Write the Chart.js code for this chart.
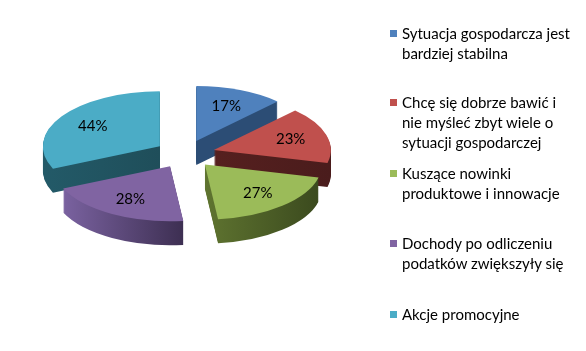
<!DOCTYPE html>
<html>
<head>
<meta charset="utf-8">
<script src="https://cdn.jsdelivr.net/npm/chart.js@4.4.1/dist/chart.umd.min.js"></script>
<style>
body{margin:0;background:#fff;}
#wrap{position:relative;width:586px;height:351px;}
#legend{position:absolute;left:0;top:0;font-family:Lato,"Open Sans",sans-serif;font-size:15px;color:#000;}
.item{position:absolute;left:402px;line-height:20px;white-space:nowrap;}
.box{position:absolute;left:-12px;top:7px;width:7px;height:7px;}
</style>
</head>
<body>
<div id="wrap">
<canvas id="c" width="586" height="351"></canvas>
<div id="legend"></div>
</div>
<script>
// data
const categories = [
  ["Sytuacja gospodarcza jest", "bardziej stabilna"],
  ["Chcę się dobrze bawić i", "nie myśleć zbyt wiele o", "sytuacji gospodarczej"],
  ["Kuszące nowinki", "produktowe i innowacje"],
  ["Dochody po odliczeniu", "podatków zwiększyły się"],
  ["Akcje promocyjne"]
]
const values = [17, 23, 27, 28, 44]
const colors = ["#4F81BD", "#C0504D", "#9BBB59", "#8064A2", "#4BACC6"]
// side (depth) colours, left -> right
const sideColors = [
  ["#2C4D75", "#2C4D75"],
  ["#56201f", "#4a1c1c"],
  ["#5f7430", "#3b4a1e"],
  ["#7a62a0", "#3d2f52"],
  ["#235a68", "#1f4e5a"]
]

// 3d look
const DEPTH = 24, K = 0.47, EXPLODE = 30, LABEL_R = 80

// legend
const legendTops = [23, 92, 163, 233, 304]
const legend = document.getElementById("legend")
categories.forEach((lines, i) => {
  const d = document.createElement("div")
  d.className = "item"
  d.style.top = legendTops[i] + "px"
  d.innerHTML = '<span class="box" style="background:' + colors[i] + '"></span>' + lines.join("<br>")
  legend.appendChild(d)
})

function midAngle(arc){ return (arc.startAngle + arc.endAngle) / 2 }

function drawArcAt(ctx, arc, i, dy, side){
  const mid = midAngle(arc)
  const cy = arc.y
  ctx.save()
  ctx.translate(0, cy + dy)
  ctx.scale(1, K)
  ctx.translate(Math.cos(mid) * EXPLODE, -cy + Math.sin(mid) * EXPLODE)
  const saved = arc.options
  if(side){
    // x range of this slice
    let minX = arc.x, maxX = arc.x
    for(let t = 0; t <= 20; t++){
      const a = arc.startAngle + (arc.endAngle - arc.startAngle) * t / 20
      const x = arc.x + Math.cos(a) * arc.outerRadius
      minX = Math.min(minX, x); maxX = Math.max(maxX, x)
    }
    const g = ctx.createLinearGradient(minX, 0, maxX, 0)
    g.addColorStop(0, sideColors[i][0])
    g.addColorStop(1, sideColors[i][1])
    arc.options = Object.assign({}, saved, {backgroundColor: g})
  }
  arc.draw(ctx)
  arc.options = saved
  ctx.restore()
}

const pie3d = {
  id: "pie3d",
  beforeDatasetsDraw(chart){
    const ctx = chart.ctx
    const arcs = chart.getDatasetMeta(0).data
    const order = arcs.map((a, i) => i).sort((a, b) => Math.sin(midAngle(arcs[a])) - Math.sin(midAngle(arcs[b])))
    order.forEach(i => {
      for(let d = DEPTH; d >= 1; d--) drawArcAt(ctx, arcs[i], i, d, true)
    })
    order.forEach(i => drawArcAt(ctx, arcs[i], i, 0, false))
    return false
  },
  afterDraw(chart){
    const ctx = chart.ctx
    const arcs = chart.getDatasetMeta(0).data
    ctx.save()
    ctx.font = "15px Lato"
    ctx.fillStyle = "#000"
    ctx.textAlign = "center"
    ctx.textBaseline = "middle"
    arcs.forEach((arc, i) => {
      const mid = midAngle(arc)
      const r = EXPLODE + LABEL_R
      ctx.fillText(values[i] + "%", arc.x + Math.cos(mid) * r, arc.y + Math.sin(mid) * r * K)
    })
    ctx.restore()
  }
}

new Chart(document.getElementById("c").getContext("2d"), {
  type: "pie",
  data: {
    labels: categories.map(l => l.join(" ")),
    datasets: [{
      data: values,
      backgroundColor: colors,
      borderWidth: 0,
      radius: 117
    }]
  },
  options: {
    responsive: false,
    animation: false,
    events: [],
    layout: { padding: { left: 0, right: 216, top: 0, bottom: 43 } },
    plugins: { legend: { display: false }, tooltip: { enabled: false } }
  },
  plugins: [pie3d]
})
</script>
</body>
</html>
